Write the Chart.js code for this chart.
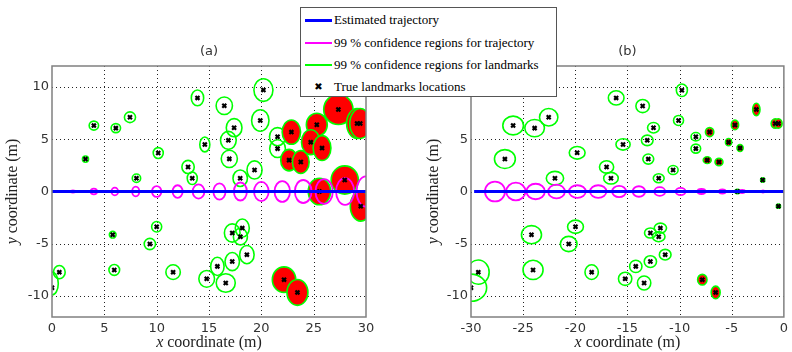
<!DOCTYPE html>
<html><head><meta charset="utf-8">
<script src="https://cdn.jsdelivr.net/npm/chart.js@4.4.1/dist/chart.umd.min.js"></script>
<style>
body{margin:0;background:#fff;width:792px;height:352px;position:relative;overflow:hidden}
canvas{position:absolute;top:0}
#ca{left:0}#cb{left:396px}
#legend{position:absolute;left:300px;top:7px;width:255px;height:88px;border:1px solid #555;background:#fff;font-family:"Liberation Serif",serif;font-size:13px;color:#000}
.row{position:absolute;left:4px;height:16px;line-height:16px;white-space:nowrap}
.row .s{display:inline-block;width:27px;vertical-align:middle;margin-right:2px}
.row .t{vertical-align:middle}
</style></head><body>
<canvas id="ca" width="396" height="352"></canvas>
<canvas id="cb" width="396" height="352"></canvas>
<div id="legend">
 <div class="row" style="top:3px"><span class="s" style="border-top:3px solid #0000ff"></span><span class="t">Estimated trajectory</span></div>
 <div class="row" style="top:26px"><span class="s" style="border-top:2px solid #ff00ff"></span><span class="t">99 % confidence regions for trajectory</span></div>
 <div class="row" style="top:48px"><span class="s" style="border-top:2px solid #00ff00"></span><span class="t">99 % confidence regions for landmarks</span></div>
 <div class="row" style="top:70px"><span class="s" style="text-align:center;font-family:'DejaVu Sans';font-weight:bold;font-size:10px;line-height:16px">&#x2716;</span><span class="t">True landmarks locations</span></div>
</div>
<script>
// ---------- data ----------
const yTicks = [-10, -5, 0, 5, 10];
const yTickLabels = ['-10', '-5', '0', '5', '10'];
const aTicksX = [0, 5, 10, 15, 20, 25, 30];
const aTickLabels = ['0', '5', '10', '15', '20', '25', '30'];
const bTicksX = [-30, -25, -20, -15, -10, -5, 0];
const bTickLabels = ['-30', '-25', '-20', '-15', '-10', '-5', '0'];

// (a) landmarks: true location, 99% region half-axes, red = filled region
const aLmX  = [3.2,4.0,6.1,7.45,8.07,10.15,13.0,13.4,13.9,14.6,16.46,17.4,16.85,16.94,17.98,19.35,20.2,19.9,21.55,21.55,22.87,22.65,23.77,25.3,24.72,25.8,27.36,29.15,29.45,27.97,25.55,29.5,17.22,18.18,18.0,18.62,17.22,15.8,14.78,16.6,22.17,23.45,5.8,10.0,9.35,5.95,0.7,0.0,11.57];
const aLmY  = [3.1,6.3,6.06,7.1,1.27,3.68,2.35,1.27,8.95,4.5,8.2,6.1,4.89,3.12,1.27,2.06,9.7,6.79,5.24,4.1,5.68,3.0,2.82,6.38,4.72,4.15,7.84,6.5,6.5,1.1,0.0,-1.4,-3.97,-3.5,-4.32,-6.04,-6.7,-7.16,-8.35,-8.75,-8.43,-9.65,-4.13,-3.37,-5.02,-7.5,-7.71,-9.2,-7.71];
const aLmCy = [3.1,6.3,6.06,7.1,1.27,3.68,2.35,1.27,8.95,4.5,8.2,6.1,4.89,3.12,1.27,2.06,9.7,6.79,5.24,4.1,5.68,3.0,2.82,6.38,4.72,4.15,7.84,6.5,6.5,1.1,0.0,-1.4,-3.97,-3.5,-4.32,-6.04,-6.7,-7.16,-8.35,-8.75,-8.43,-9.65,-4.13,-3.37,-5.02,-7.5,-7.71,-8.8,-7.71];
const aLmRx = [.29,.45,.45,.53,.4,.48,.59,.48,.59,.48,.78,.75,.75,.77,.69,.72,.91,.83,.77,.75,.88,.8,.8,1.0,.88,.85,1.4,1.0,1.0,1.3,1.07,1.0,.75,.67,.67,.69,.69,.64,.75,.91,1.12,1.0,.32,.48,.54,.51,.56,.6,.69];
const aLmRy = [.3,.43,.43,.51,.4,.52,.63,.6,.75,.71,.84,.87,.86,.83,.79,.87,1.08,1.03,.87,.85,1.16,1.03,1.1,1.1,1.19,1.19,1.43,1.43,1.43,1.35,1.27,1.43,.87,.87,.8,.87,.87,.87,.8,.89,1.22,1.24,.32,.5,.54,.52,.63,1.1,.7];
const aLmRed = [0,0,0,0,0,0,0,0,0,0,0,0,0,0,0,0,0,0,0,0,1,1,1,1,1,1,1,1,1,1,1,1,0,0,0,0,0,0,0,0,1,1,0,0,0,0,0,0,0];

// (a) trajectory and its 99% regions
const aTrajX  = [0,2,4,6,8,10,12,14,16,18,20,22,24,26,28,30];
const aTrajY  = [0,0,0,0,0,0,0,0,0,0,0,0,0,0,0,0];
const aTrajRx = [0,.24,.3,.32,.34,.45,.48,.56,.58,.62,.7,.74,.8,.83,.86,.9];
const aTrajRy = [0,.1,.27,.37,.47,.52,.6,.68,.78,.86,.92,1.0,1.1,1.18,1.27,1.45];

// (b) landmarks
const bLmX  = [-26.75,-25.96,-23.9,-22.55,-21.95,-19.82,-17.0,-16.58,-16.08,-15.42,-13.54,-12.5,-13.1,-13.0,-12.0,-10.62,-9.78,-10.1,-8.44,-8.44,-7.12,-7.35,-6.22,-4.69,-5.3,-4.2,-2.64,-0.82,-0.52,-2.03,-4.45,-0.52,-12.8,-11.84,-12.0,-11.38,-12.8,-14.2,-15.22,-13.4,-7.82,-6.54,-24.2,-19.98,-20.63,-24.05,-29.3,-30.0,-18.43];
const bLmY  = [3.1,6.31,6.06,7.1,1.27,3.7,2.35,1.27,8.95,4.5,8.17,6.1,4.89,3.1,1.27,2.06,9.68,6.79,5.24,4.1,5.68,3.0,2.82,6.36,4.72,4.15,7.84,6.5,6.5,1.1,0.0,-1.4,-3.97,-3.5,-4.32,-6.04,-6.7,-7.16,-8.35,-8.75,-8.43,-9.65,-4.13,-3.37,-5.02,-7.5,-7.71,-9.2,-7.71];
const bLmCy = bLmY;
const bLmRx = [1.0,.99,.94,.88,.83,.76,.68,.7,.75,.68,.65,.57,.56,.52,.52,.48,.53,.48,.46,.46,.4,.38,.38,.35,.3,.3,.35,.4,.35,.2,.25,.2,.56,.59,.6,.56,.59,.59,.64,.64,.45,.43,.96,.76,.8,.96,1.04,1.5,.64];
const bLmRy = [.9,.9,.83,.83,.65,.6,.59,.56,.68,.54,.63,.5,.5,.48,.43,.43,.6,.48,.4,.43,.43,.32,.35,.46,.35,.33,.6,.45,.45,.2,.2,.2,.48,.48,.48,.51,.56,.59,.63,.67,.51,.6,.87,.63,.73,.92,1.16,1.3,.7];
const bLmRed = aLmRed;

// (b) trajectory and its 99% regions
const bTrajX  = [-29.7,-27.7,-25.7,-23.8,-21.8,-19.8,-17.8,-15.8,-13.9,-11.9,-9.9,-7.9,-5.9,-4.0,-2.0,0];
const bTrajY  = [0,0,0,0,0,0,0,0,0,0,0,0,0,0,0,0];
const bTrajRx = [0,.96,.92,.88,.8,.8,.78,.67,.6,.52,.48,.38,.32,.28,.15,0];
const bTrajRy = [0,.95,.84,.74,.66,.6,.6,.54,.5,.42,.35,.24,.2,.15,.1,0];

// ---------- drawing ----------
const slamPlugin = {
  id: 'slam',
  beforeDatasetsDraw(chart, args, o) {
    const {ctx, chartArea: a} = chart;
    const xs = chart.scales.x, ys = chart.scales.y;
    ctx.save();
    ctx.beginPath(); ctx.rect(a.left, a.top, a.right - a.left, a.bottom - a.top); ctx.clip();
    ctx.strokeStyle = '#222'; ctx.lineWidth = 1; ctx.setLineDash([1, 3]);
    xs.ticks.forEach(t => {
      const p = Math.round(xs.getPixelForValue(t.value)) + 0.5;
      if (p > a.left + 2 && p < a.right - 2) { ctx.beginPath(); ctx.moveTo(p, a.top); ctx.lineTo(p, a.bottom); ctx.stroke(); }
    });
    ys.ticks.forEach(t => {
      const p = Math.round(ys.getPixelForValue(t.value)) + 0.5;
      if (p > a.top + 2 && p < a.bottom - 2) { ctx.beginPath(); ctx.moveTo(a.left, p); ctx.lineTo(a.right, p); ctx.stroke(); }
    });
    ctx.setLineDash([]);
    const ell = (cx, cy, rx, ry) => {
      const px = xs.getPixelForValue(cx), py = ys.getPixelForValue(cy);
      const rpx = Math.abs(xs.getPixelForValue(cx + rx) - px), rpy = Math.abs(ys.getPixelForValue(cy + ry) - py);
      ctx.beginPath(); ctx.ellipse(px, py, rpx, rpy, 0, 0, Math.PI * 2);
    };
    ctx.lineWidth = 1.6;
    o.lmX.forEach((cx, i) => {
      ell(cx, o.lmCy[i], o.lmRx[i], o.lmRy[i]);
      if (o.lmRed[i]) { ctx.fillStyle = '#ff0000'; ctx.fill(); }
      ctx.strokeStyle = '#00ff00'; ctx.stroke();
    });
    ctx.lineWidth = 1.8; ctx.strokeStyle = '#ff00ff';
    o.trX.forEach((cx, i) => {
      if (o.trRx[i] <= 0) return;
      ell(cx, o.trY[i], o.trRx[i], o.trRy[i]); ctx.stroke();
    });
    ctx.restore();
  },
  afterDraw(chart, args, o) {
    const {ctx, chartArea: a} = chart;
    ctx.save();
    ctx.strokeStyle = '#808080'; ctx.lineWidth = 1.5;
    ctx.strokeRect(a.left, a.top, a.right - a.left, a.bottom - a.top);
    ctx.fillStyle = '#333';
    ctx.font = '13px "DejaVu Sans"'; ctx.textAlign = 'center'; ctx.textBaseline = 'middle';
    const cxm = (a.left + a.right) / 2, cym = (a.top + a.bottom) / 2;
    ctx.fillText(o.title, cxm, 52);
    const drawLabel = (v, rest, x, y) => {
      ctx.fillStyle = '#222';
      ctx.font = 'italic 16px "Liberation Serif"';
      const w1 = ctx.measureText(v).width;
      ctx.font = '16px "Liberation Serif"';
      const w2 = ctx.measureText(rest).width;
      const x0 = x - (w1 + w2) / 2;
      ctx.textAlign = 'left';
      ctx.font = 'italic 16px "Liberation Serif"'; ctx.fillText(v, x0, y);
      ctx.font = '16px "Liberation Serif"'; ctx.fillText(rest, x0 + w1, y);
    };
    drawLabel('x', ' coordinate (m)', cxm, 343);
    ctx.translate(o.yTitleX, cym); ctx.rotate(-Math.PI / 2);
    drawLabel('y', ' coordinate (m)', 0, 0);
    ctx.restore();
  }
};

function makeChart(id, d) {
  return new Chart(document.getElementById(id), {
    type: 'scatter',
    data: {
      datasets: [
        { type: 'line', data: d.trX.map((v, i) => ({x: v, y: d.trY[i]})), borderColor: '#0000ff', borderWidth: 3, pointRadius: 0, fill: false },
        { data: d.lmX.map((v, i) => ({x: v, y: d.lmY[i]})), pointStyle: 'crossRot', pointRadius: 2.8, borderWidth: 2.2, borderColor: '#000', backgroundColor: '#000' }
      ]
    },
    options: {
      responsive: false, animation: false, devicePixelRatio: 1,
      layout: { padding: { top: 66, right: d.padRight, left: 0, bottom: 0 } },
      plugins: { legend: { display: false }, tooltip: { enabled: false },
        slam: { lmX: d.lmX, lmCy: d.lmCy, lmRx: d.lmRx, lmRy: d.lmRy, lmRed: d.lmRed,
                trX: d.trX, trY: d.trY, trRx: d.trRx, trRy: d.trRy, title: d.title, yTitleX: d.yTitleX } },
      scales: {
        x: { type: 'linear', min: d.ticksX[0], max: d.ticksX[d.ticksX.length - 1],
             grid: { display: false, drawTicks: false }, border: { display: false },
             afterBuildTicks: s => { s.ticks = d.ticksX.map(v => ({value: v})); },
             afterFit: s => { s.height = 35; },
             ticks: { autoSkip: false, maxRotation: 0, padding: 4, color: '#333', font: { family: 'DejaVu Sans', size: 13 },
                      callback: v => d.tickLabelsX[d.ticksX.indexOf(v)] } },
        y: { type: 'linear', min: -12, max: 12,
             grid: { display: false, drawTicks: false }, border: { display: false },
             afterBuildTicks: s => { s.ticks = yTicks.map(v => ({value: v})); },
             afterFit: s => { s.width = d.yWidth; },
             ticks: { autoSkip: false, padding: 3, color: '#333', font: { family: 'DejaVu Sans', size: 13 },
                      callback: v => yTickLabels[yTicks.indexOf(v)] } }
      }
    },
    plugins: [slamPlugin]
  });
}

makeChart('ca', { lmX: aLmX, lmY: aLmY, lmCy: aLmCy, lmRx: aLmRx, lmRy: aLmRy, lmRed: aLmRed,
  trX: aTrajX, trY: aTrajY, trRx: aTrajRx, trRy: aTrajRy,
  ticksX: aTicksX, tickLabelsX: aTickLabels, yWidth: 52, padRight: 30, title: '(a)', yTitleX: 13 });
makeChart('cb', { lmX: bLmX, lmY: bLmY, lmCy: bLmCy, lmRx: bLmRx, lmRy: bLmRy, lmRed: bLmRed,
  trX: bTrajX, trY: bTrajY, trRx: bTrajRx, trRy: bTrajRy,
  ticksX: bTicksX, tickLabelsX: bTickLabels, yWidth: 75, padRight: 7, title: '(b)', yTitleX: 38 });
</script>
</body></html>
